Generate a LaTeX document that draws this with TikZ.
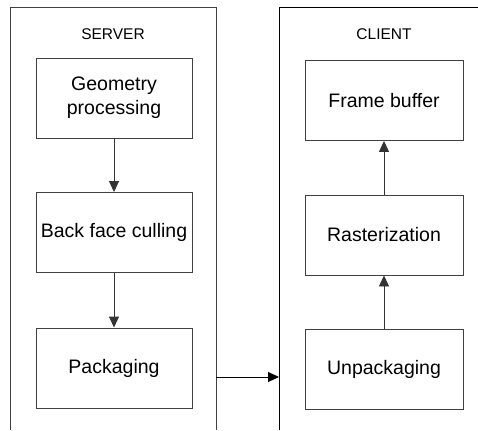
\documentclass[tikz,border=0pt]{standalone}
\usepackage{fontspec}
\setmainfont{Liberation Sans}
\usetikzlibrary{arrows.meta,positioning}

\begin{document}
\begin{tikzpicture}[
  x=1pt,y=-1pt,
  stage/.style={draw=black!75,line width=0.9pt,minimum width=156pt,minimum height=80pt,
    inner sep=0pt,align=center,font=\fontsize{19.5}{24}\selectfont},
  side/.style={font=\fontsize{15.5}{18}\selectfont},
  flow/.style={-{Triangle[length=11pt,width=10pt]},black!80,line width=0.9pt}
]
  \useasboundingbox (0,0) rectangle (478,430);
  % Server side
  \draw[black!75,line width=0.9pt] (10,430) -- (10,7) -- (216,7) -- (216,430);
  \node[side] (srv) at (113,34) {SERVER};
  \node[stage] (geo) at (114,98) {Geometry\\processing};
  \node[stage] (bfc) at (114,232.5) {Back face culling};
  \node[stage] (pack) at (114,368) {Packaging};
  % Client side
  \draw[black,line width=0.9pt] (279,430) -- (279,7) -- (478,7);
  \node[side] (cli) at (384,34) {CLIENT};
  \node[stage,minimum width=158pt] (fb) at (384,100.5) {Frame buffer};
  \node[stage,minimum width=158pt] (rast) at (384,235) {Rasterization};
  \node[stage,minimum width=158pt] (unpack) at (384,369) {Unpackaging};
  % Pipeline arrows
  \draw[flow] (geo) -- (bfc);
  \draw[flow] (bfc) -- (pack);
  \draw[flow] (unpack) -- (rast);
  \draw[flow] (rast) -- (fb);
  % Network link
  \coordinate (srvedge) at (216,377);
  \coordinate (cliedge) at (279,377);
  \draw[flow,black] (srvedge) -- (cliedge);
\end{tikzpicture}
\end{document}
